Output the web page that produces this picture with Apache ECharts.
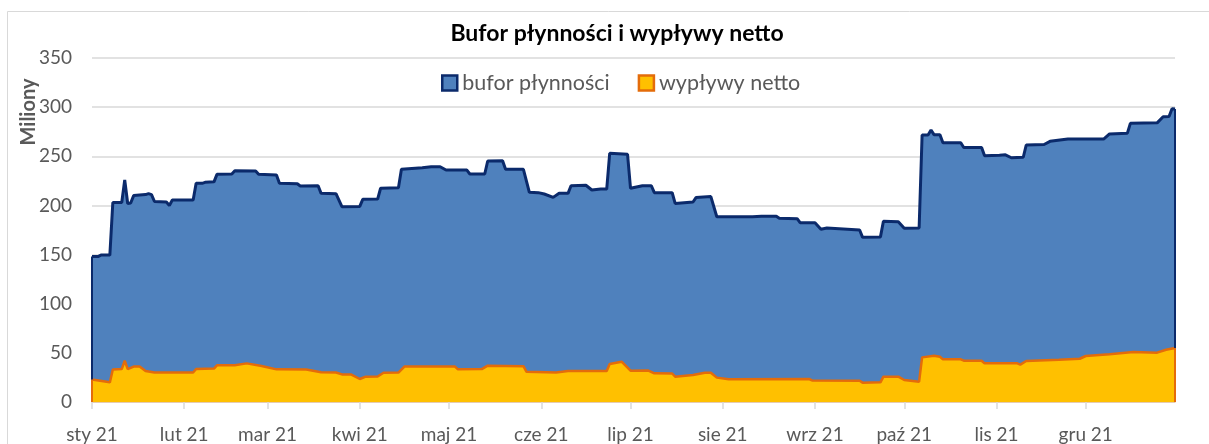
<!DOCTYPE html>
<html>
<head>
<meta charset="utf-8">
<script src="https://cdn.jsdelivr.net/npm/echarts@6/dist/echarts.min.js"></script>
<style>
html,body{margin:0;padding:0;background:#fff;}
#chart{width:1209px;height:444px;}
</style>
</head>
<body>
<div id="chart"></div>
<script>
// ---- data ----
const monthLabels = ['sty 21','lut 21','mar 21','kwi 21','maj 21','cze 21','lip 21','sie 21','wrz 21','paź 21','lis 21','gru 21'];
const yTicks = [0, 50, 100, 150, 200, 250, 300, 350];

const buforDates = ['2021-01-01','2021-01-03','2021-01-04','2021-01-07','2021-01-08','2021-01-11','2021-01-12','2021-01-13','2021-01-14','2021-01-15','2021-01-19','2021-01-20','2021-01-21','2021-01-22','2021-01-26','2021-01-27','2021-01-28','2021-02-04','2021-02-05','2021-02-07','2021-02-08','2021-02-11','2021-02-12','2021-02-17','2021-02-18','2021-02-25','2021-02-26','2021-03-04','2021-03-05','2021-03-11','2021-03-12','2021-03-18','2021-03-19','2021-03-24','2021-03-26','2021-04-01','2021-04-02','2021-04-07','2021-04-08','2021-04-14','2021-04-15','2021-04-22','2021-04-25','2021-04-28','2021-04-30','2021-05-07','2021-05-08','2021-05-13','2021-05-14','2021-05-19','2021-05-20','2021-05-26','2021-05-28','2021-05-31','2021-06-02','2021-06-05','2021-06-07','2021-06-10','2021-06-11','2021-06-16','2021-06-18','2021-06-21','2021-06-23','2021-06-24','2021-06-30','2021-07-01','2021-07-05','2021-07-08','2021-07-09','2021-07-15','2021-07-16','2021-07-22','2021-07-23','2021-07-28','2021-07-30','2021-08-11','2021-08-14','2021-08-19','2021-08-20','2021-08-26','2021-08-27','2021-09-01','2021-09-03','2021-09-05','2021-09-16','2021-09-17','2021-09-23','2021-09-24','2021-09-29','2021-10-01','2021-10-06','2021-10-07','2021-10-09','2021-10-10','2021-10-11','2021-10-13','2021-10-14','2021-10-20','2021-10-21','2021-10-27','2021-10-28','2021-11-02','2021-11-04','2021-11-06','2021-11-10','2021-11-11','2021-11-17','2021-11-19','2021-11-25','2021-12-07','2021-12-09','2021-12-15','2021-12-16','2021-12-25','2021-12-27','2021-12-29','2021-12-30','2021-12-31'];
const buforValues = [148,148,149.5,149.5,203,203,226,202,202.5,210,211,212,211,204,203.5,200,205.5,205.5,222.5,222.5,223.5,224,231.6,232,235.3,235,231.6,231,222.5,222,219.7,220,212.3,212,198.7,199,206.2,206.5,217.5,218,236.7,238.4,239.4,239.4,236,236,232,232,245.2,245.5,236.7,236.7,213.3,213,211.6,208.2,212.3,212.3,220,220.5,215.7,216.7,216.7,253,252,217.4,220,220,213,213,202,203.5,208,209,188.5,188.5,189,189,187,186.5,182.4,182.4,175.7,177,175,167.5,168,184,183.5,176.7,177,271.6,271.6,276.7,272,272,263.8,263.8,259,259,250.6,251,251.5,248.5,249,261.5,262,265.2,267.6,267.5,272.7,273.5,283.5,284,290.3,290.5,298.4,298];

const wyplywyDates = ['2021-01-01','2021-01-07','2021-01-08','2021-01-11','2021-01-12','2021-01-13','2021-01-15','2021-01-17','2021-01-19','2021-01-22','2021-02-04','2021-02-05','2021-02-11','2021-02-12','2021-02-18','2021-02-22','2021-02-27','2021-03-04','2021-03-14','2021-03-19','2021-03-24','2021-03-26','2021-03-29','2021-04-01','2021-04-03','2021-04-07','2021-04-09','2021-04-14','2021-04-16','2021-05-03','2021-05-04','2021-05-12','2021-05-14','2021-05-26','2021-05-27','2021-06-06','2021-06-10','2021-06-23','2021-06-24','2021-06-28','2021-07-01','2021-07-07','2021-07-09','2021-07-15','2021-07-16','2021-07-22','2021-07-26','2021-07-28','2021-07-30','2021-08-03','2021-08-30','2021-08-31','2021-09-16','2021-09-17','2021-09-23','2021-09-24','2021-09-29','2021-10-01','2021-10-06','2021-10-07','2021-10-11','2021-10-13','2021-10-14','2021-10-20','2021-10-21','2021-10-27','2021-10-28','2021-11-08','2021-11-09','2021-11-11','2021-11-22','2021-11-29','2021-12-01','2021-12-09','2021-12-17','2021-12-25','2021-12-28','2021-12-31'];
const wyplywyValues = [23,20,33,33.5,42,33.5,36,36,31.5,30,30,33.6,34,37.3,37.5,39.3,36.6,33.2,33,30.2,30,28.1,28,23.4,25.8,26,29.8,30,36,36,33.2,33.5,37,36.5,30.9,30,31.5,31.5,38.7,41,31.9,32,29.2,29,25.8,27.5,29.8,29.8,24.8,23.1,23.4,22,21.7,19.7,20,25.8,25.8,22.4,20.7,45.4,47.1,46,43.4,43.4,42,42,39.3,39.3,38,41.7,43,44,46.8,48.5,50.9,50.2,53.2,55];

const seriesNames = ['bufor płynności', 'wypływy netto'];

// ---- chart ----
const FONT = 'Lato, "Open Sans", sans-serif';
const pairs = (d, v) => d.map((x, i) => [x, v[i]]);
const edgeLines = (d, v) => ({
  silent: true, symbol: 'none', label: {show: false},
  data: [
    [{coord: [d[0], 0]}, {coord: [d[0], v[0]]}],
    [{coord: [d[d.length-1], 0]}, {coord: [d[d.length-1], v[v.length-1]]}]
  ]
});

const chart = echarts.init(document.getElementById('chart'));
chart.setOption({
  animation: false,
  backgroundColor: '#ffffff',
  textStyle: {fontFamily: FONT},
  title: {
    text: 'Bufor płynności i wypływy netto',
    left: 612, top: 17, textAlign: 'center',
    textStyle: {fontFamily: FONT, fontWeight: 'bold', fontSize: 23, color: '#000000'}
  },
  legend: {
    left: 436, top: 67,
    itemWidth: 15, itemHeight: 15, itemGap: 28,
    textStyle: {fontFamily: FONT, fontSize: 21.5, color: '#595959'},
    data: [
      {name: seriesNames[0], icon: 'rect', itemStyle: {color: '#4F81BD', borderColor: '#0B2A6B', borderWidth: 2.5}},
      {name: seriesNames[1], icon: 'rect', itemStyle: {color: '#FFC000', borderColor: '#E46C0A', borderWidth: 2.5}}
    ]
  },
  grid: {left: 92, right: 34, top: 58, bottom: 42, containLabel: false, outerBoundsMode: 'none'},
  xAxis: {
    type: 'time',
    min: '2021-01-01', max: '2021-12-31',
    splitNumber: 12,
    minInterval: 28 * 86400000,
    maxInterval: 31 * 86400000,
    axisLine: {show: true, lineStyle: {color: '#E6C3A3', width: 1.5}},
    axisTick: {show: true, length: 7, lineStyle: {color: '#D9D9D9', width: 1.5}},
    splitLine: {show: false},
    axisLabel: {
      fontFamily: FONT, fontSize: 19, color: '#595959', margin: 23,
      formatter: function (val) { return monthLabels[new Date(val).getMonth()]; }
    }
  },
  yAxis: {
    type: 'value', min: yTicks[0], max: yTicks[yTicks.length-1], interval: 50,
    axisLine: {show: false}, axisTick: {show: false},
    splitLine: {lineStyle: {color: '#D9D9D9', width: 1.5}},
    axisLabel: {fontFamily: FONT, fontSize: 19, color: '#595959', margin: 20}
  },
  graphic: [
    {type: 'rect', shape: {x: 7.5, y: 11.5, width: 1215, height: 450}, style: {fill: 'none', stroke: '#D9D9D9', lineWidth: 1}, silent: true, z: -10},
    {type: 'text', x: 28.5, y: 112, rotation: Math.PI / 2,
     style: {text: 'Miliony', fontFamily: FONT, fontWeight: 'bold', fontSize: 20, fill: '#595959', align: 'center', verticalAlign: 'middle'}}
  ],
  series: [
    {
      name: seriesNames[0], type: 'line', showSymbol: false, symbol: 'none',
      data: pairs(buforDates, buforValues),
      lineStyle: {color: '#0B2A6B', width: 3},
      itemStyle: {color: '#4F81BD', borderColor: '#0B2A6B'},
      areaStyle: {color: '#4F81BD', opacity: 1},
      markLine: Object.assign(edgeLines(buforDates, buforValues), {lineStyle: {color: '#0B2A6B', width: 2, type: 'solid'}}),
      z: 2
    },
    {
      name: seriesNames[1], type: 'line', showSymbol: false, symbol: 'none',
      data: pairs(wyplywyDates, wyplywyValues),
      lineStyle: {color: '#E46C0A', width: 2.5},
      itemStyle: {color: '#FFC000', borderColor: '#E46C0A'},
      areaStyle: {color: '#FFC000', opacity: 1},
      markLine: Object.assign(edgeLines(wyplywyDates, wyplywyValues), {lineStyle: {color: '#E46C0A', width: 2, type: 'solid'}}),
      z: 3
    }
  ]
});
</script>
</body>
</html>
